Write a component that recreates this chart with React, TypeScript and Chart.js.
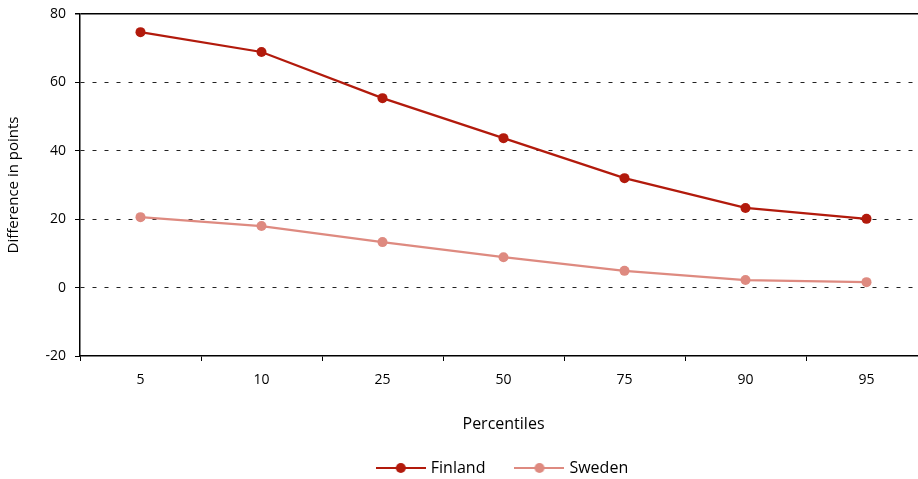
import React, { useEffect, useRef } from "react";
import { Chart, registerables } from "chart.js";

Chart.register(...registerables);

const categories = ["5", "10", "25", "50", "75", "90", "95"];
const finland = [74.7, 68.9, 55.4, 43.7, 32.0, 23.3, 20.1];
const sweden = [20.6, 18.0, 13.3, 8.9, 4.9, 2.2, 1.6];
const yTicks = [-20, 0, 20, 40, 60, 80];

const FIN_COLOR = "#B21A0C";
const SWE_COLOR = "#DE8A80";
const FONT = "'Open Sans', 'Noto Sans', sans-serif";

function legendIcon(color: string): HTMLCanvasElement {
  const c = document.createElement("canvas");
  c.width = 50;
  c.height = 12;
  const ctx = c.getContext("2d")!;
  ctx.strokeStyle = color;
  ctx.lineWidth = 2;
  ctx.beginPath();
  ctx.moveTo(0, 6);
  ctx.lineTo(50, 6);
  ctx.stroke();
  ctx.fillStyle = color;
  ctx.beginPath();
  ctx.arc(25, 6, 5, 0, Math.PI * 2);
  ctx.fill();
  return c;
}

export default function App() {
  const ref = useRef<HTMLCanvasElement | null>(null);

  useEffect(() => {
    if (!ref.current) return;
    const icons = [legendIcon(FIN_COLOR), legendIcon(SWE_COLOR)];
    const chart = new Chart(ref.current, {
      type: "line",
      data: {
        labels: categories,
        datasets: [
          {
            label: "Finland",
            data: finland,
            borderColor: FIN_COLOR,
            backgroundColor: FIN_COLOR,
            borderWidth: 2.2,
            pointRadius: 5,
            pointBackgroundColor: FIN_COLOR,
            pointBorderWidth: 0,
            tension: 0,
          },
          {
            label: "Sweden",
            data: sweden,
            borderColor: SWE_COLOR,
            backgroundColor: SWE_COLOR,
            borderWidth: 2.2,
            pointRadius: 5,
            pointBackgroundColor: SWE_COLOR,
            pointBorderWidth: 0,
            tension: 0,
          },
        ],
      },
      options: {
        animation: false,
        responsive: false,
        maintainAspectRatio: false,
        layout: { padding: { top: 14, right: 0, left: 0, bottom: 0 } },
        plugins: {
          tooltip: { enabled: false },
          legend: {
            position: "bottom",
            fullSize: false,
            maxHeight: 51,
            labels: {
              usePointStyle: true,
              pointStyleWidth: 44,
              padding: 32,
              color: "#000",
              font: { family: FONT, size: 16 },
              generateLabels: (ch: any) =>
                ch.data.datasets.map((ds: any, i: number) => ({
                  text: ds.label,
                  pointStyle: icons[i],
                  fillStyle: ds.borderColor,
                  strokeStyle: ds.borderColor,
                  lineWidth: 0,
                  hidden: false,
                  datasetIndex: i,
                  fontColor: "#000",
                })),
            },
          },
        },
        scales: {
          x: {
            offset: true,
            afterFit: (scale: any) => {
              scale.height = 72;
              scale.paddingLeft = 0;
              scale.paddingRight = 0;
            },
            grid: {
              offset: true,
              drawOnChartArea: false,
              drawTicks: true,
              tickLength: 5,
              tickColor: "#000",
              color: "#000",
            },
            border: { display: true, color: "#000", width: 1.5 },
            ticks: {
              color: "#000",
              padding: 11,
              font: { family: FONT, size: 14 },
            },
            title: {
              display: true,
              text: "Percentiles",
              color: "#000",
              font: { family: FONT, size: 16 },
              padding: { top: 0, bottom: -6 },
            },
          },
          y: {
            min: -20,
            max: 80,
            afterFit: (scale: any) => {
              scale.width = 80;
              scale.paddingTop = 0;
              scale.paddingBottom = 0;
            },
            afterBuildTicks: (scale: any) => {
              scale.ticks = yTicks.map((v) => ({ value: v }));
            },
            grid: {
              drawTicks: true,
              tickLength: 5,
              tickColor: "#000",
              lineWidth: (ctx: any) => (ctx.tick && ctx.tick.value === 80 ? 1.5 : 1),
              color: (ctx: any) => {
                const v = ctx.tick ? ctx.tick.value : null;
                if (v === 80) return "#000";
                if (v === -20) return "rgba(0,0,0,0)";
                return "#222";
              },
            },
            border: {
              display: true,
              color: "#000",
              width: 1.5,
              dash: (ctx: any) => (ctx.tick && ctx.tick.value === 80 ? [] : [4, 8]),
            },
            ticks: {
              color: "#000",
              padding: 9,
              font: { family: FONT, size: 14 },
            },
            title: {
              display: true,
              text: "Difference in points",
              color: "#000",
              font: { family: FONT, size: 15 },
              padding: { top: 5, bottom: 0 },
            },
          },
        },
      },
    });
    return () => chart.destroy();
  }, []);

  return (
    <div
      style={{
        position: "fixed",
        left: 0,
        top: 0,
        width: 918,
        height: 479,
        overflow: "hidden",
        background: "#fff",
      }}
    >
      <canvas ref={ref} width={932} height={479} style={{ display: "block" }} />
    </div>
  );
}
